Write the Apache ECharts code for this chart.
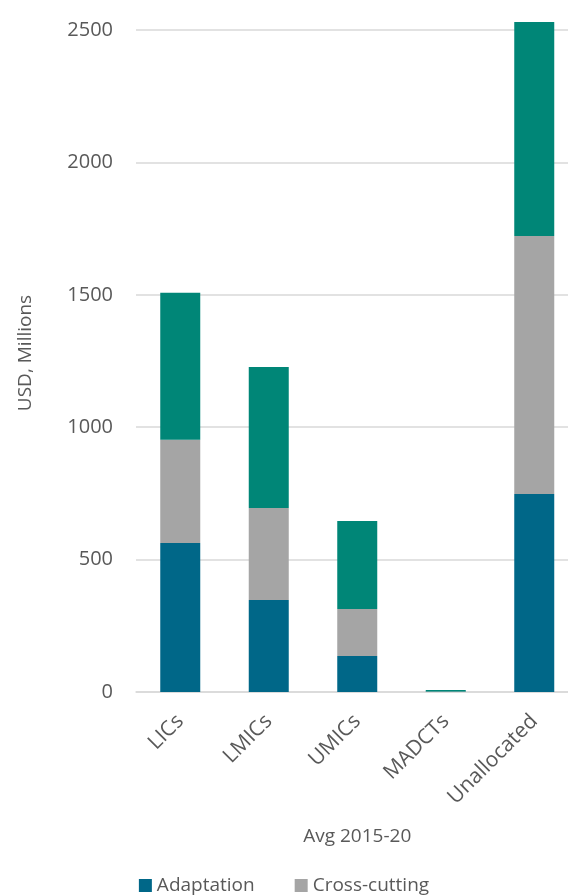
<!DOCTYPE html>
<html><head><meta charset="utf-8">
<script src="https://cdn.jsdelivr.net/npm/echarts@6/dist/echarts.min.js"></script>
<style>html,body{margin:0;padding:0;background:#fff;overflow:hidden}#c{width:568px;height:895px}</style>
</head><body><div id="c"></div>
<script>
const categories = ['LICs', 'LMICs', 'UMICs', 'MADCTs', 'Unallocated'];
const adaptation = [563, 347, 136, 1, 748];
const crossCutting = [390, 348, 177, 1, 974];
const mitigation = [555, 532, 333, 6, 808];
const yTicks = [0, 500, 1000, 1500, 2000, 2500];

const chart = echarts.init(document.getElementById('c'));
const font = '"Open Sans", sans-serif';
const txt = '#595959';
const barW = 40;
chart.setOption({
  animation: false,
  textStyle: {fontFamily: font},
  grid: {left: 136, width: 442.5, top: 30, bottom: 203, containLabel: false, outerBoundsMode: 'none'},
  legend: {
    data: ['Adaptation', 'Cross-cutting', 'Mitigation'],
    left: 'center', top: 876, width: 340, padding: 0,
    itemGap: 40, itemWidth: 13, itemHeight: 13, icon: 'rect',
    textStyle: {fontSize: 19, color: txt, fontFamily: font}
  },
  xAxis: {
    type: 'category', data: categories,
    name: 'Avg 2015-20', nameLocation: 'middle', nameGap: 135,
    nameTextStyle: {fontSize: 19, color: txt, fontFamily: font},
    axisLine: {lineStyle: {color: '#D9D9D9', width: 1.5}},
    axisTick: {show: false},
    axisLabel: {rotate: 45, fontSize: 21, color: txt, margin: 26, fontFamily: font},
  },
  yAxis: {
    type: 'value', min: 0, max: 2500, interval: 500,
    name: 'USD, Millions', nameLocation: 'middle', nameGap: 101, nameRotate: 90,
    nameTextStyle: {fontSize: 19, color: txt, fontFamily: font, padding: [0, 0, 0, 16]},
    axisLine: {show: false}, axisTick: {show: false},
    axisLabel: {fontSize: 20, color: txt, margin: 23, fontFamily: font,
      formatter: v => yTicks.includes(v) ? String(v) : ''},
    splitLine: {lineStyle: {color: '#D9D9D9', width: 1.5}}
  },
  series: [
    {name: 'Adaptation', type: 'bar', stack: 't', data: adaptation, barWidth: barW, clip: false,
     itemStyle: {color: '#006788'}},
    {name: 'Cross-cutting', type: 'bar', stack: 't', data: crossCutting, barWidth: barW, clip: false,
     itemStyle: {color: '#A5A5A5'}},
    {name: 'Mitigation', type: 'bar', stack: 't', data: mitigation, barWidth: barW, clip: false,
     itemStyle: {color: '#008677'}}
  ]
});
</script></body></html>
